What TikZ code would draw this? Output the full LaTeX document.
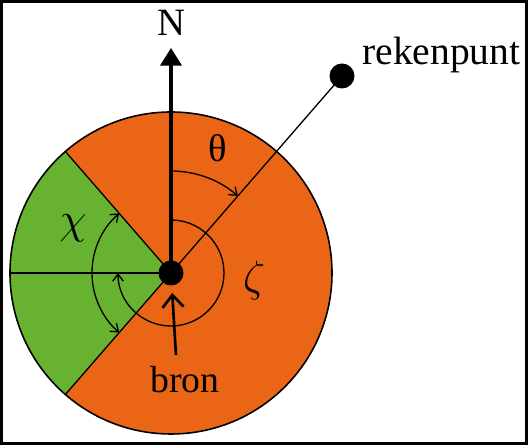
\documentclass[tikz,border=0pt]{standalone}
\usepackage{fontspec}
\setmainfont{Liberation Serif}
\usetikzlibrary{calc,angles,quotes,arrows.meta}
\definecolor{bronorange}{RGB}{234,101,22}
\definecolor{sectorgreen}{RGB}{103,178,48}

\begin{document}
\begin{tikzpicture}[>={Straight Barb[length=4pt,width=6pt]},
	thin line/.style={line width=0.75pt},
	every pic quotes/.style={font=\fontsize{22}{26}\selectfont}]
	\coordinate (O) at (0,0);
	\coordinate (N) at (0,4.5);
	\coordinate (R) at (3.42,3.94);
	\coordinate (W) at (180:3.22);
	\coordinate (U) at (131:3.22);
	\coordinate (L) at (229:3.22);
	\coordinate (S) at (0.1,-1.64);

	\useasboundingbox (-3.42,-3.44) rectangle (7.14,5.46);
	\draw[line width=1.6pt] (-3.39,-3.41) rectangle (7.11,5.43);

	\fill[bronorange] (O) circle (3.22);
	\fill[sectorgreen] (O) -- (U) arc (131:229:3.22) -- cycle;
	\draw[line width=0.9pt] (O) circle (3.22);
	\draw[thin line] (U) -- (O) -- (L);
	\draw[thin line] (W) -- (O);
	\draw[thin line] (O) -- (R);
	\draw[line width=1.8pt, -{Triangle[width=12pt,length=10pt]}] (O) -- (N);

	\draw pic["θ", draw, thin line, <-, angle eccentricity=1.31, angle radius=2.04cm] {angle=R--O--N};
	\draw pic[draw, thin line, <-, angle radius=1.06cm] {angle=W--O--N};
	\draw pic[draw, thin line, <->, angle radius=1.58cm] {angle=U--O--L};

	\fill (O) circle (0.25);
	\fill (R) circle (0.25);
	\draw[line width=1.5pt, -{Straight Barb[length=7pt,width=12pt]}, shorten >=0.4cm] (S) -- (O);

	\node[font=\fontsize{22}{26}\selectfont] (nlabel) at (0,5.01) {N};
	\node[font=\fontsize{22.5}{26}\selectfont, anchor=base west, inner sep=0pt] (rlabel) at (3.82,4.16) {rekenpunt};
	\node[font=\fontsize{21.5}{25}\selectfont] (blabel) at (0.28,-2.14) {bron};
	\node[font=\fontsize{24}{28}\selectfont] (chi) at (-1.96,0.9) {$\chi$};
	\node[font=\fontsize{28}{32}\selectfont] (zeta) at (1.66,-0.16) {$\zeta$};
\end{tikzpicture}
\end{document}
